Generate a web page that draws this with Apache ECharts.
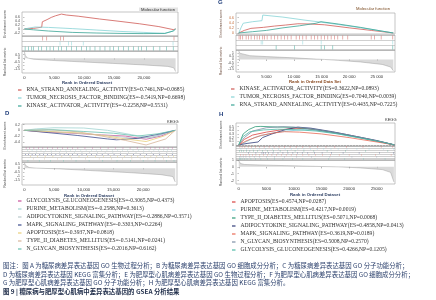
<!DOCTYPE html>
<html>
<head>
<meta charset="utf-8">
<script src="https://cdn.jsdelivr.net/npm/echarts@6/dist/echarts.min.js"></script>
<style>
  html, body { margin: 0; padding: 0; background: #fff; }
  #chart { width: 436px; height: 300px; }
</style>
</head>
<body>
<div id="chart"></div>
<script>
// ---- panel C : GO molecular function (diabetes) ----
const C_NAMES = [
  'RNA_STRAND_ANNEALING_ACTIVITY(ES=0.7461,NP=0.0685)',
  'TUMOR_NECROSIS_FACTOR_BINDING(ES=-0.5419,NP=0.6698)',
  'KINASE_ACTIVATOR_ACTIVITY(ES=-0.2258,NP=0.5531)'
]
const C_COLORS = ['#cf5a55', '#86d3d6', '#3aa596']
const C_ES = [
  [[0,0],[1500,0.03],[2900,0.09],[3000,0.36],[3800,0.47],[4500,0.58],[5200,0.66],[6200,0.746],[7000,0.7],[9000,0.64],[12600,0.5],[16000,0.38],[19300,0.26],[22500,0.12],[24900,-0.03],[25300,0]],
  [[0,0],[800,0.05],[1800,0.1],[4000,0.08],[8000,0.02],[12000,-0.05],[16000,-0.12],[20000,-0.17],[23500,-0.22],[24900,-0.1],[25300,0]],
  [[0,0],[1500,-0.04],[4000,-0.1],[8000,-0.17],[12000,-0.2],[16000,-0.22],[20000,-0.23],[23500,-0.22],[24900,-0.1],[25300,0]]
]
const C_HITS = [
  [3070,3740,6080,6520,25030],
  [5960,7360,7900,9840,24870],
  [120,670,1230,1500,2340,2900,3740,4290,4850,5690,6240,7080,7910,8750,9580,10420,10980,11810,12650,13480,14320,14880,15710,16550,17380,18220,19050,19610,20450,21560,22670,23790,24900]
]
const C_RANKED = [[0,0.9],[150,0.4],[500,0.05],[1500,-0.12],[5000,-0.3],[10000,-0.5],[15000,-0.7],[20000,-0.9],[24000,-1.1],[25000,-1.3],[25300,-1.8]]

// ---- panel G : GO molecular function (HCM) ----
const G_NAMES = [
  'KINASE_ACTIVATOR_ACTIVITY(ES=0.3622,NP=0.0893)',
  'TUMOR_NECROSIS_FACTOR_BINDING(ES=0.7040,NP=0.0039)',
  'RNA_STRAND_ANNEALING_ACTIVITY(ES=0.4435,NP=0.7225)'
]
const G_COLORS = ['#cf5a55', '#86d3d6', '#3aa596']
const G_ES = [
  [[0,0],[1000,0.1],[2200,0.18],[4500,0.22],[6500,0.27],[8500,0.31],[10700,0.36],[13000,0.35],[15500,0.32],[20000,0.2],[24000,0.1],[28000,0]],
  [[0,0],[400,0.2],[800,0.38],[2500,0.44],[4200,0.48],[4350,0.7],[8000,0.62],[12000,0.5],[15000,0.42],[20000,0.27],[24000,0.14],[28000,0]],
  [[0,0],[2500,0.05],[5000,0.1],[8000,0.2],[11000,0.28],[14000,0.38],[14900,0.44],[18000,0.35],[22000,0.22],[26000,0.07],[28000,0]]
]
const G_HITS = [
  [50,300,720,1330,1750,2235,2840,3320,3745,4350,4650,5135,5860,6460,7070,7670,8275,8880,9480,10390,10990,11600,12200,13110,13710,14315,14920,15520,16130,16730,17335,17940,18845,19750,23980,24580,25790,27900],
  [4050,4350,11600,14920,27900],
  [6765,10085,14920,15520,17030,27900]
]
const G_RANKED = [[0,1.4],[150,1.0],[500,0.8],[2000,0.6],[5000,0.45],[10000,0.25],[14000,0.05],[15500,0],[18000,-0.15],[22000,-0.4],[26000,-0.8],[27500,-1.2],[28000,-1.8]]

// ---- panel D : KEGG (diabetes) ----
const D_NAMES = [
  'GLYCOLYSIS_GLUCONEOGENESIS(ES=-0.3065,NP=0.4373)',
  'PURINE_METABOLISM(ES=-0.2588,NP=0.3613)',
  'ADIPOCYTOKINE_SIGNALING_PATHWAY(ES=-0.2886,NP=0.3571)',
  'MAPK_SIGNALING_PATHWAY(ES=-0.3303,NP=0.2264)',
  'APOPTOSIS(ES=-0.3937,NP=0.0818)',
  'TYPE_II_DIABETES_MELLITUS(ES=-0.5141,NP=0.0241)',
  'N_GLYCAN_BIOSYNTHESIS(ES=-0.2016,NP=0.6162)'
]
const D_COLORS = ['#c8509a', '#9fd3d0', '#b9c9cc', '#3d4e8e', '#e9cf7a', '#d7b59a', '#67bfae']
const D_ES = [
  [[0,0],[3000,-0.05],[8000,-0.1],[13000,-0.16],[17000,-0.2],[20500,-0.31],[23000,-0.2],[25400,0]],
  [[0,0],[2000,0.05],[5000,0.09],[10000,0.08],[14000,0],[18000,-0.15],[21000,-0.26],[23500,-0.12],[25400,0]],
  [[0,0],[4000,-0.04],[9000,-0.1],[14000,-0.18],[19000,-0.29],[22000,-0.22],[25400,0]],
  [[0,0],[4000,-0.08],[9000,-0.18],[14000,-0.3],[15500,-0.33],[19000,-0.28],[23000,-0.12],[25400,0]],
  [[0,0],[5000,-0.05],[10000,-0.1],[14000,-0.2],[17000,-0.3],[20500,-0.39],[23500,-0.2],[25400,0]],
  [[0,0],[4000,0.02],[9000,-0.05],[13000,-0.2],[17000,-0.35],[20500,-0.51],[23800,-0.3],[25400,0]],
  [[0,0],[5000,0.02],[10000,-0.04],[15000,-0.1],[19000,-0.2],[22500,-0.12],[25400,0]]
]
const D_HITS = [
  [300,900,1600,2400,3100,3900,4700,5600,6400,7300,8100,9000,10200,11500,12800,14100,15300,16600,17800,19000,20300,21200,22000,22800,23500,24200,24900],
  [500,1300,2100,2800,3600,4500,5300,6100,7000,7800,8600,9500,10400,11300,12100,13000,13900,14800,15700,16500,17400,18300,19200,20100,21000,21800,22600,23400,24100,24800],
  [800,2000,3300,4600,5900,7100,8400,9700,11000,12300,13600,14900,16200,17500,18800,20100,21400,22700,24000,25000],
  [200,700,1300,1900,2600,3200,3900,4600,5300,6000,6700,7400,8100,8900,9700,10500,11300,12200,13100,14100,15100,16200,17300,18400,19500,20600,21700,22800,23900,24900],
  [1000,2200,3500,4800,6300,7700,9200,10600,12000,13300,14500,15700,16900,18000,19100,20200,21300,22300,23300,24300,25100],
  [1500,3400,5600,7900,10300,12600,14700,16500,18100,19500,20800,22100,23400,24700],
  [600,2500,4400,6600,8700,10900,13200,15600,17900,20000,22000,23900,25200]
]
const D_RANKED = [[0,0.7],[200,0.35],[800,0.08],[2000,0],[6000,-0.1],[12000,-0.35],[18000,-0.6],[23000,-0.85],[25000,-1.1],[25400,-1.8]]

// ---- panel H : KEGG (HCM) ----
const H_NAMES = [
  'APOPTOSIS(ES=0.4574,NP=0.0287)',
  'PURINE_METABOLISM(ES=0.4217,NP=0.0019)',
  'TYPE_II_DIABETES_MELLITUS(ES=0.5071,NP=0.0068)',
  'ADIPOCYTOKINE_SIGNALING_PATHWAY(ES=0.4858,NP=0.0413)',
  'MAPK_SIGNALING_PATHWAY(ES=0.3619,NP=0.0189)',
  'N_GLYCAN_BIOSYNTHESIS(ES=0.5008,NP=0.2570)',
  'GLYCOLYSIS_GLUCONEOGENESIS(ES=0.4266,NP=0.1205)'
]
const H_COLORS = ['#d9413f', '#79cde0', '#2e9a77', '#2f3b78', '#e96a55', '#7d8fa6', '#4fb9a6']
const H_ES = [
  [[0,0],[1000,0.15],[2500,0.27],[5000,0.35],[8000,0.42],[10000,0.457],[12500,0.44],[16000,0.36],[20000,0.26],[24000,0.14],[28200,0]],
  [[0,0],[1000,0.06],[2800,0.2],[5300,0.3],[8000,0.37],[11900,0.42],[14000,0.4],[18000,0.3],[22000,0.19],[26000,0.07],[28200,0]],
  [[0,0],[400,0.15],[800,0.3],[1800,0.42],[3000,0.5],[4000,0.507],[7000,0.49],[10000,0.48],[14000,0.42],[18000,0.32],[22000,0.2],[26000,0.07],[28200,0]],
  [[0,0],[1500,0.04],[3500,0.08],[4300,0.2],[6000,0.3],[8500,0.42],[10700,0.486],[13000,0.46],[17000,0.36],[21000,0.24],[25000,0.12],[28200,0]],
  [[0,0],[1500,0.12],[4000,0.26],[6500,0.33],[8300,0.362],[11000,0.35],[15000,0.3],[20000,0.2],[25000,0.08],[28200,0]],
  [[0,0],[1000,0.2],[2500,0.38],[5000,0.47],[8000,0.5],[11000,0.48],[15000,0.4],[19000,0.3],[23000,0.18],[28200,0]],
  [[0,0],[700,0.22],[2000,0.36],[4500,0.41],[7000,0.43],[10000,0.42],[14000,0.38],[18000,0.3],[22000,0.19],[26000,0.08],[28200,0]]
]
const H_HITS = [
  [200,600,1100,1700,2300,3000,3800,4600,5500,6400,7300,8300,9300,10400,11600,12900,14300,15800,17400,19500,22500,25800,27900],
  [400,1400,2600,3700,4900,6100,7200,8400,9500,10700,11800,13000,14200,15400,16700,18000,19600,21400,23600,26200,28000],
  [150,500,900,1400,2000,2700,3400,4300,5200,6300,7500,8800,10200,11800,13600,16000,19300,23000,27000],
  [1800,3100,4200,4500,4800,5400,6200,7100,8000,8900,9800,10600,11500,12500,13700,15100,16800,18900,21800,25500,28000],
  [300,800,1300,1900,2500,3100,3800,4500,5200,6000,6800,7700,8600,9500,10500,11600,12700,13900,15200,16600,18200,20000,22200,24800,27600],
  [100,400,800,1300,2000,2800,3800,5000,6500,8300,10500,13200,16500,20500,25000],
  [100,300,600,1000,1500,2200,3000,4000,5200,6500,8000,9700,11600,13800,16300,19200,22600,26500]
]
const H_RANKED = [[0,0.9],[300,0.5],[1000,0.35],[5000,0.25],[10000,0.15],[15000,0.05],[18000,0],[22000,-0.15],[26000,-0.4],[27500,-0.8],[28100,-2.2]]

// tick labels
const X_TICKS_CD = [0, 5000, 10000, 15000, 20000]
const X_TICKS_GH = [0, 5000, 10000, 15000, 20000, 25000]

const CAPTION = [
  '图注：图 A 为糖尿病差异表达基因 GO 生物过程分析；B 为糖尿病差异表达基因 GO 细胞成分分析；C 为糖尿病差异表达基因 GO 分子功能分析；',
  'D 为糖尿病差异表达基因 KEGG 富集分析；E 为肥厚型心肌病差异表达基因 GO 生物过程分析；F 为肥厚型心肌病差异表达基因 GO 细胞成分分析；',
  'G 为肥厚型心肌病差异表达基因 GO 分子功能分析；H 为肥厚型心肌病差异表达基因 KEGG 富集分析。'
]
const FIG_TITLE = '图 9 | 糖尿病与肥厚型心肌病中差异表达基因的 GSEA 分析结果'

const SANS = 'Liberation Sans'
const SERIF = 'Liberation Serif'

const option = { animation: false, grid: [], xAxis: [], yAxis: [], series: [], legend: [], graphic: [] }

function addPanel(p) {
  const g0 = option.grid.length
  const base = { left: p.left, width: p.width, show: true, borderColor: '#a0a0a0', borderWidth: 0.6, outerBoundsMode: 'none' }
  option.grid.push({ ...base, top: p.esTop, height: p.esH })
  option.grid.push({ ...base, top: p.hitTop, height: p.hitH })
  option.grid.push({ ...base, top: p.rkTop, height: p.rkH })

  const xBase = { type: 'value', min: p.xMin, max: p.xMax, splitLine: { show: false }, axisLine: { show: false }, axisTick: { show: false }, axisLabel: { show: false } }
  option.xAxis.push({ ...xBase, gridIndex: g0 })
  option.xAxis.push({ ...xBase, gridIndex: g0 + 1 })
  option.xAxis.push({
    ...xBase, gridIndex: g0 + 2,
    axisTick: { show: true, customValues: p.xTicks, length: 1.5, lineStyle: { color: '#666', width: 0.5 } },
    axisLabel: { show: true, customValues: p.xTicks, formatter: p.xFmt, fontSize: 4.2, color: '#333', margin: 3, fontFamily: SANS }
  })

  const nameStyle = { fontSize: 3.6, color: p.axisNameColor || '#444', fontFamily: SANS }
  option.yAxis.push({
    type: 'value', gridIndex: g0, min: p.esMin, max: p.esMax,
    splitLine: { show: false }, axisLine: { show: false },
    axisTick: { show: true, customValues: p.esTicks, length: 1.2, lineStyle: { color: '#666', width: 0.5 } },
    axisLabel: { customValues: p.esTicks, fontSize: 3.4, margin: 2, color: p.esLabelColor || '#444', fontFamily: SANS },
    name: 'Enrichment score', nameLocation: 'middle', nameGap: p.nameGap, nameRotate: 90, nameTextStyle: nameStyle
  })
  option.yAxis.push({
    type: 'category', gridIndex: g0 + 1, data: p.names.map((_, i) => i), inverse: true,
    axisLabel: { show: false }, axisTick: { show: false }, axisLine: { show: false },
    splitLine: { show: true, interval: 0, lineStyle: { color: '#a0a0a0', width: 0.5 } }
  })
  option.yAxis.push({
    type: 'value', gridIndex: g0 + 2, min: p.rkMin, max: p.rkMax,
    splitLine: { show: false }, axisLine: { show: false },
    axisTick: { show: true, customValues: p.rkTicks, length: 1.2, lineStyle: { color: '#666', width: 0.5 } },
    axisLabel: { customValues: p.rkTicks, fontSize: 3.4, margin: 2, color: '#444', fontFamily: SANS },
    name: 'Ranked list metric', nameLocation: 'middle', nameGap: p.nameGap, nameRotate: 90, nameTextStyle: nameStyle
  })

  const rowH = p.hitH / p.names.length
  p.names.forEach((name, i) => {
    const s = {
      type: 'line', name, xAxisIndex: g0, yAxisIndex: g0, data: p.curves[i],
      showSymbol: false, color: p.colors[i], lineStyle: { width: 0.8 }, z: 3
    }
    if (p.zeroLine && i === 0) {
      s.markLine = { silent: true, symbol: 'none', label: { show: false }, data: [{ yAxis: 0 }], lineStyle: { color: '#888', type: 'dashed', width: 0.5 } }
    }
    option.series.push(s)
    option.series.push({
      type: 'scatter', xAxisIndex: g0 + 1, yAxisIndex: g0 + 1,
      data: p.hits[i].map(r => [r, i]), symbol: 'rect', symbolSize: [0.6, Math.max(rowH - 1, 1.2)],
      itemStyle: { color: p.colors[i] }, silent: true
    })
  })
  option.series.push({
    type: 'line', xAxisIndex: g0 + 2, yAxisIndex: g0 + 2, data: p.ranked, showSymbol: false,
    lineStyle: { width: 0.4, color: '#8c8c8c' }, areaStyle: { color: '#cbcbcb' }, silent: true
  })

  option.legend.push({
    orient: 'vertical', left: p.legLeft, top: p.legTop, data: p.names, icon: 'rect',
    itemWidth: 3.5, itemHeight: 1.2, itemGap: 2, padding: 0, selectedMode: false,
    textStyle: { fontSize: 5.6, lineHeight: 6, fontFamily: SERIF, color: '#333' }
  })

  option.graphic.push({
    type: 'text', left: p.rankX, top: p.rankY,
    style: { text: p.rankText, fontSize: 4.3, fontWeight: 'bold', fill: p.rankColor, fontFamily: SANS }
  })
}

const commaFmt = v => String(v).replace(/\B(?=(\d{3})+$)/g, ',')
const spaceFmt = v => String(v).replace(/\B(?=(\d{3})+$)/g, ' ')

addPanel({
  left: 22, width: 156, esTop: 12, esH: 24, hitTop: 36, hitH: 15, rkTop: 51, rkH: 22,
  xMin: -400, xMax: 25700, xTicks: X_TICKS_CD, xFmt: commaFmt,
  esMin: -0.35, esMax: 0.85, esTicks: [-0.2, 0, 0.2, 0.4, 0.6],
  rkMin: -2, rkMax: 1, rkTicks: [-1.5, -1, -0.5, 0, 0.5],
  names: C_NAMES, colors: C_COLORS, curves: C_ES, hits: C_HITS, ranked: C_RANKED,
  nameGap: 15, legLeft: 18, legTop: 87,
  rankText: 'Rank in Ordered Dataset', rankX: 62, rankY: 81, rankColor: '#2d3f63'
})
addPanel({
  left: 236, width: 159, esTop: 13, esH: 21, hitTop: 35, hitH: 15, rkTop: 50, rkH: 22,
  xMin: -500, xMax: 28300, xTicks: X_TICKS_GH, xFmt: spaceFmt,
  esMin: -0.04, esMax: 0.78, esTicks: [0, 0.2, 0.4, 0.6],
  rkMin: -2, rkMax: 1.5, rkTicks: [-1.5, -1, -0.5, 0, 0.5, 1],
  names: G_NAMES, colors: G_COLORS, curves: G_ES, hits: G_HITS, ranked: G_RANKED,
  nameGap: 13, legLeft: 231, legTop: 86, esLabelColor: '#c0622a', axisNameColor: '#6a4a3a',
  rankText: 'Rank in Ordered Data Set', rankX: 289, rankY: 80, rankColor: '#8a4b22'
})
addPanel({
  left: 22, width: 155, esTop: 124, esH: 23, hitTop: 147, hitH: 15, rkTop: 162, rkH: 23,
  xMin: -400, xMax: 25700, xTicks: X_TICKS_CD, xFmt: commaFmt,
  esMin: -0.58, esMax: 0.22, esTicks: [-0.4, -0.2, 0, 0.2],
  rkMin: -2.2, rkMax: 0.8, rkTicks: [-1.5, -1, -0.5, 0, 0.5],
  names: D_NAMES, colors: D_COLORS, curves: D_ES, hits: D_HITS, ranked: D_RANKED,
  nameGap: 15, legLeft: 18, legTop: 198,
  rankText: 'Rank in Ordered Dataset', rankX: 64, rankY: 194, rankColor: '#2d3f63'
})
addPanel({
  left: 236, width: 159, esTop: 123, esH: 23, hitTop: 146, hitH: 14, rkTop: 160, rkH: 24,
  xMin: -500, xMax: 28300, xTicks: X_TICKS_GH, xFmt: v => String(v),
  esMin: -0.03, esMax: 0.6, esTicks: [0, 0.1, 0.2, 0.3, 0.4, 0.5],
  rkMin: -2.5, rkMax: 1, rkTicks: [-2, -1, 0, 1],
  names: H_NAMES, colors: H_COLORS, curves: H_ES, hits: H_HITS, ranked: H_RANKED,
  nameGap: 13, legLeft: 232, legTop: 199, zeroLine: true,
  rankText: 'Rank in Ordered Dataset', rankX: 290, rankY: 193, rankColor: '#2d3f63'
})

// panel titles, letters and caption
option.graphic.push(
  { type: 'rect', shape: { x: 139, y: 7.5, width: 39, height: 4.5 }, style: { fill: '#e4e4e4' } },
  { type: 'text', left: 141, top: 8, style: { text: 'Molecular function', fontSize: 4.2, fill: '#333', fontFamily: SANS } },
  { type: 'text', left: 356, top: 7, style: { text: 'Molecular function', fontSize: 4.2, fill: '#7a4a20', fontFamily: SANS } },
  { type: 'text', left: 167, top: 120, style: { text: 'KEGG', fontSize: 4, fill: '#333', fontFamily: SANS } },
  { type: 'text', left: 385, top: 118, style: { text: 'KEGG', fontSize: 4, fill: '#333', fontFamily: SANS } },
  { type: 'text', left: 218, top: -1, style: { text: 'G', fontSize: 6, fontWeight: 'bold', fill: '#1f3d7a', fontFamily: SANS } },
  { type: 'text', left: 5, top: 110, style: { text: 'D', fontSize: 6, fontWeight: 'bold', fill: '#1f3d7a', fontFamily: SANS } },
  { type: 'text', left: 219, top: 111, style: { text: 'H', fontSize: 6, fontWeight: 'bold', fill: '#1f3d7a', fontFamily: SANS } }
)
CAPTION.forEach((line, i) => {
  option.graphic.push({
    type: 'text', left: 3, top: 262.5 + i * 8.6,
    style: { text: line, fontSize: 6.4, fill: '#2a3f6b', fontFamily: 'Noto Sans CJK SC' }
  })
})
option.graphic.push({
  type: 'text', left: 3, top: 288.5,
  style: { text: FIG_TITLE, fontSize: 6.4, fontWeight: 'bold', fill: '#1d2b48', fontFamily: 'Noto Sans CJK SC' }
})

const chart = echarts.init(document.getElementById('chart'))
chart.setOption(option)
</script>
</body>
</html>
